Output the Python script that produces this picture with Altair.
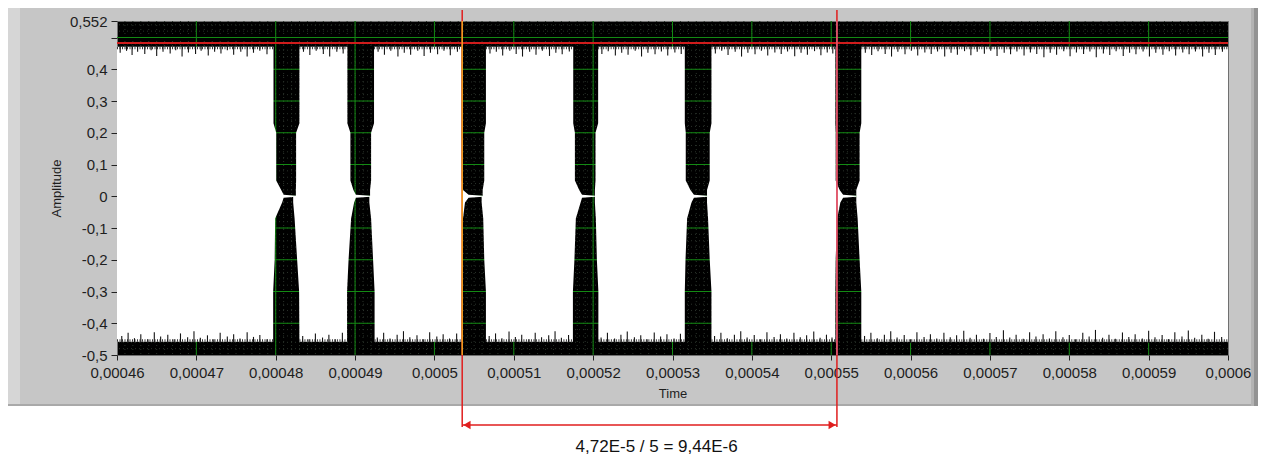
import altair as alt
import pandas as pd

# ---------------- data (time in microseconds) ----------------
X_TICKS = [460, 470, 480, 490, 500, 510, 520, 530, 540, 550, 560, 570, 580, 590, 600]
Y_TICKS = [-0.5, -0.4, -0.3, -0.2, -0.1, 0.0, 0.1, 0.2, 0.3, 0.4, 0.5, 0.552]
X_MIN, X_MAX = 460, 600
Y_MIN, Y_MAX = -0.5, 0.552

TOP_EDGE = 0.471
BOTTOM_EDGE = -0.458
REF_LEVEL = 0.483
CURSOR_1 = 503.5
CURSOR_2 = 550.72
LABEL_T = 528.0
LABEL = "4,72E-5 / 5 = 9,44E-6"

# envelope levels of the bursts (amplitude)
LEVELS = [0.471, 0.23, 0.20, 0.05, 0.02, -0.02, -0.07, -0.20, -0.30, -0.458]
# left / right edge (time, us) of each burst at each level
BURST_L = [
    [479.72, 479.72, 480.06, 480.06, 480.69, 480.81, 479.93, 479.87, 479.68, 479.68],
    [489.03, 489.03, 489.41, 489.41, 489.79, 489.88, 489.50, 489.18, 488.99, 488.99],
    [503.43, 503.43, 503.43, 503.45, 503.60, 503.85, 503.60, 503.47, 503.43, 503.43],
    [517.49, 517.49, 517.70, 517.70, 518.24, 518.42, 517.82, 517.64, 517.45, 517.45],
    [531.55, 531.55, 531.67, 531.67, 532.26, 532.39, 531.84, 531.64, 531.55, 531.55],
    [550.52, 550.52, 550.56, 550.56, 551.06, 551.15, 550.75, 550.56, 550.52, 550.52],
]
BURST_R = [
    [482.99, 482.99, 482.57, 482.57, 482.54, 482.20, 482.38, 482.70, 482.95, 482.99],
    [492.39, 492.39, 492.02, 492.02, 491.89, 491.80, 492.02, 492.27, 492.46, 492.46],
    [506.49, 506.49, 506.28, 506.28, 506.08, 505.95, 506.15, 506.28, 506.49, 506.49],
    [520.63, 520.63, 520.30, 520.30, 520.22, 520.22, 520.34, 520.47, 520.66, 520.66],
    [534.91, 534.91, 534.69, 534.69, 534.35, 534.35, 534.48, 534.69, 534.91, 534.91],
    [553.79, 553.79, 553.58, 553.58, 553.16, 553.16, 553.33, 553.58, 553.79, 553.79],
]
NOTCH_TIP = [481.0, 490.1, 504.3, 518.6, 532.7, 551.5]
NOTCH_LEVELS = [0.005, 0.0012, -0.0012, -0.005]

SPIKES_TOP = [
    (460.4, .452), (461.2, .458), (461.9, .445), (462.6, .455), (463.5, .448), (464.3, .46),
    (465.0, .442), (465.8, .455), (466.7, .45), (467.4, .46), (468.2, .44), (469.0, .453),
    (469.9, .448), (470.6, .458), (471.5, .443), (472.3, .455), (473.1, .45), (473.9, .46),
    (474.7, .446), (475.6, .455), (476.4, .44), (477.2, .452), (478.0, .458), (478.9, .447),
    (483.5, .455), (484.3, .445), (485.1, .458), (486.0, .448), (486.8, .44), (487.7, .455),
    (488.5, .45),
    (492.9, .455), (493.7, .446), (494.5, .458), (495.4, .44), (496.2, .452), (497.0, .446),
    (497.9, .458), (498.7, .442), (499.5, .452), (500.4, .447), (501.2, .458), (502.0, .444),
    (502.9, .455),
    (507.0, .45), (507.8, .455), (508.6, .443), (509.5, .458), (510.3, .448), (511.1, .44),
    (512.0, .455), (512.8, .446), (513.6, .458), (514.5, .442), (515.3, .452), (516.1, .447),
    (517.0, .456),
    (521.1, .448), (521.9, .457), (522.8, .443), (523.6, .452), (524.4, .446), (525.3, .458),
    (526.1, .44), (526.9, .452), (527.8, .447), (528.6, .456), (529.4, .443), (530.3, .453),
    (531.1, .448),
    (535.4, .45), (536.2, .458), (537.0, .445), (537.9, .455), (538.7, .44), (539.5, .452),
    (540.4, .447), (541.2, .458), (542.0, .443), (542.9, .453), (543.7, .448), (544.5, .456),
    (545.4, .441), (546.2, .452), (547.0, .446), (547.9, .457), (548.7, .444), (549.5, .453),
    (550.2, .45),
    (554.3, .452), (555.1, .445), (555.9, .457), (556.8, .448), (557.6, .44), (558.4, .455),
    (559.3, .447), (560.1, .458), (560.9, .443), (561.8, .453), (562.6, .448), (563.4, .456),
    (564.3, .44), (565.1, .452), (565.9, .446), (566.8, .457), (567.6, .444), (568.4, .455),
    (569.3, .449), (570.1, .458), (570.9, .442), (571.8, .452), (572.6, .447), (573.4, .456),
    (574.3, .443), (575.1, .453), (575.9, .448), (576.8, .438), (577.6, .452), (578.4, .446),
    (579.3, .457), (580.1, .441), (580.9, .453), (581.8, .448), (582.6, .456), (583.4, .438),
    (584.3, .45), (585.1, .445), (585.9, .457), (586.8, .442), (587.6, .452), (588.4, .447),
    (589.3, .456), (590.1, .44), (590.9, .452), (591.8, .446), (592.6, .457), (593.4, .443),
    (594.3, .453), (595.1, .447), (595.9, .456), (596.8, .44), (597.6, .452), (598.4, .445),
    (599.3, .455),
]
SPIKES_BOTTOM = [
    (460.6, -.44), (461.4, -.43), (462.2, -.447), (463.0, -.435), (463.9, -.45), (464.7, -.428),
    (465.5, -.442), (466.4, -.436), (467.2, -.45), (468.0, -.432), (468.9, -.444), (469.7, -.425),
    (470.5, -.446), (471.4, -.438), (472.2, -.45), (473.0, -.43), (473.9, -.442), (474.7, -.435),
    (475.5, -.448), (476.4, -.428), (477.2, -.443), (478.0, -.437), (478.9, -.45),
    (483.4, -.44), (484.2, -.45), (485.0, -.432), (485.9, -.445), (486.7, -.436), (487.5, -.45),
    (488.4, -.43),
    (492.8, -.445), (493.6, -.43), (494.4, -.448), (495.3, -.436), (496.1, -.425), (496.9, -.444),
    (497.8, -.438), (498.6, -.45), (499.4, -.428), (500.3, -.442), (501.1, -.435), (501.9, -.448),
    (502.8, -.432),
    (506.9, -.44), (507.7, -.432), (508.5, -.447), (509.4, -.426), (510.2, -.443), (511.0, -.436),
    (511.9, -.45), (512.7, -.43), (513.5, -.444), (514.4, -.438), (515.2, -.425), (516.0, -.446),
    (516.9, -.437),
    (521.0, -.445), (521.8, -.43), (522.7, -.448), (523.5, -.436), (524.3, -.426), (525.2, -.444),
    (526.0, -.438), (526.8, -.45), (527.7, -.429), (528.5, -.442), (529.3, -.435), (530.2, -.448),
    (531.0, -.433),
    (535.3, -.44), (536.1, -.43), (536.9, -.447), (537.8, -.436), (538.6, -.425), (539.4, -.445),
    (540.3, -.437), (541.1, -.45), (541.9, -.428), (542.8, -.443), (543.6, -.435), (544.4, -.448),
    (545.3, -.43), (546.1, -.444), (546.9, -.438), (547.8, -.426), (548.6, -.446), (549.4, -.436),
    (550.1, -.445),
    (554.2, -.44), (555.0, -.43), (555.8, -.447), (556.7, -.436), (557.5, -.425), (558.3, -.445),
    (559.2, -.437), (560.0, -.45), (560.8, -.428), (561.7, -.443), (562.5, -.435), (563.3, -.448),
    (564.2, -.43), (565.0, -.444), (565.8, -.438), (566.7, -.424), (567.5, -.446), (568.3, -.436),
    (569.2, -.449), (570.0, -.431), (570.8, -.443), (571.7, -.422), (572.5, -.445), (573.3, -.436),
    (574.2, -.449), (575.0, -.428), (575.8, -.442), (576.7, -.435), (577.5, -.448), (578.3, -.425),
    (579.2, -.444), (580.0, -.437), (580.8, -.45), (581.7, -.43), (582.5, -.442), (583.3, -.421),
    (584.2, -.446), (585.0, -.436), (585.8, -.449), (586.7, -.429), (587.5, -.443), (588.3, -.435),
    (589.2, -.448), (590.0, -.424), (590.8, -.444), (591.7, -.437), (592.5, -.45), (593.3, -.428),
    (594.2, -.442), (595.0, -.423), (595.8, -.446), (596.7, -.436), (597.5, -.449), (598.3, -.427),
    (599.2, -.443),
]

# ---------------- tables ----------------
full_levels = LEVELS[:5] + NOTCH_LEVELS + LEVELS[5:]
L_full, R_full = [], []
for b in range(len(BURST_L)):
    L, R, tip = BURST_L[b], BURST_R[b], NOTCH_TIP[b]
    L_full.append(L[:5] + [tip, R[4], R[4], tip] + L[5:])
    R_full.append(R[:5] + [R[4], R[4], R[5], R[5]] + R[5:])

rows = []
n_seg = len(BURST_L) + 1
for k in range(n_seg):
    for i, v in enumerate(full_levels):
        left = X_MIN if k == 0 else R_full[k - 1][i]
        right = X_MAX if k == n_seg - 1 else L_full[k][i]
        rows.append({"seg": k, "v": float(v), "t": float(left), "t2": float(right)})
white_df = pd.DataFrame(rows).sort_values(["seg", "v"]).reset_index(drop=True)

# fuzzy comb along the white edges (between bursts)
edge_top = white_df[white_df["v"] == LEVELS[0]][["t", "t2"]].copy()
edge_top["v"] = TOP_EDGE - 0.004
edge_bot = white_df[white_df["v"] == LEVELS[-1]][["t", "t2"]].copy()
edge_bot["v"] = BOTTOM_EDGE + 0.004
edge_df = pd.concat([edge_top, edge_bot], ignore_index=True)

top_df = pd.DataFrame({"t": [s[0] for s in SPIKES_TOP],
                       "v": [TOP_EDGE + 0.004] * len(SPIKES_TOP),
                       "v2": [s[1] for s in SPIKES_TOP]})
bot_df = pd.DataFrame({"t": [s[0] for s in SPIKES_BOTTOM],
                       "v": [BOTTOM_EDGE - 0.004] * len(SPIKES_BOTTOM),
                       "v2": [s[1] for s in SPIKES_BOTTOM]})

minor_x = pd.DataFrame({"t": list(range(X_MIN + 1, X_MAX))})
minor_y = pd.DataFrame({"v": [round(-0.48 + 0.02 * i, 3) for i in range(52)]})
major_x = pd.DataFrame({"t": X_TICKS[1:-1]})
major_y = pd.DataFrame({"v": Y_TICKS[1:-1]})
cursor_df = pd.DataFrame({"t": [CURSOR_1, CURSOR_2], "v": [Y_MAX, Y_MAX], "v2": [Y_MIN, Y_MIN],
                          "c": ["c1", "c2"]})

# ---------------- scales / encodings ----------------
FONT = "Liberation Sans"
xs = alt.Scale(domain=[X_MIN, X_MAX], nice=False, zero=False)
ys = alt.Scale(domain=[Y_MIN, Y_MAX], nice=False, zero=False)
x_axis = alt.Axis(
    values=X_TICKS, labelExpr="replace(toString(datum.value / 1000000), '.', ',')",
    tickSize=5, tickColor="#222222", domain=False, grid=False,
    labelFont=FONT, labelFontSize=15, labelColor="#1e1e1e", labelPadding=5,
    labelFlush=False, labelOverlap=False,
    titleFont=FONT, titleFontSize=13, titleFontWeight="normal", titleColor="#1e1e1e", titlePadding=7,
)
y_axis = alt.Axis(
    values=Y_TICKS, labelExpr="datum.value == 0.5 ? '' : replace(toString(datum.value), '.', ',')",
    tickSize=6, tickColor="#222222", domain=False, grid=False,
    labelFont=FONT, labelFontSize=15, labelColor="#1e1e1e", labelPadding=4,
    labelOverlap=False, labelFlush=False,
    titleFont=FONT, titleFontSize=13, titleFontWeight="normal", titleColor="#1e1e1e", titlePadding=6,
)

def X(field="t"):
    return alt.X(f"{field}:Q", scale=xs, axis=x_axis, title="Time")

def Y(field="v"):
    return alt.Y(f"{field}:Q", scale=ys, axis=y_axis, title="Amplitude")

W, H = 1111, 334
one = pd.DataFrame({"a": [0]})

# panel decorations (outside the plot)
panel_bottom = alt.Chart(one).mark_rect(color="white").encode(
    x=alt.value(-120), x2=alt.value(1160), y=alt.value(385), y2=alt.value(520))
panel_edge = alt.Chart(one).mark_rect(color="#a9a9a9").encode(
    x=alt.value(-109), x2=alt.value(1141), y=alt.value(383), y2=alt.value(385))
left_strip = alt.Chart(one).mark_rect(color="#d6d6d6").encode(
    x=alt.value(-109), x2=alt.value(-97), y=alt.value(-13), y2=alt.value(383))
right_strip = alt.Chart(one).mark_rect(color="#b3b3b3").encode(
    x=alt.value(1134), x2=alt.value(1141), y=alt.value(-13), y2=alt.value(385))
right_dark = alt.Chart(one).mark_rect(color="#939393").encode(
    x=alt.value(1137), x2=alt.value(1141), y=alt.value(-13), y2=alt.value(385))

g_minor_x = alt.Chart(minor_x).mark_rule(color="#2a322a", strokeWidth=1, strokeDash=[1, 3]).encode(x=X())
g_minor_y = alt.Chart(minor_y).mark_rule(color="#2a322a", strokeWidth=1, strokeDash=[1, 3]).encode(y=Y())
g_major_x = alt.Chart(major_x).mark_rule(color="#138a13", strokeWidth=1).encode(x=X())
g_major_y = alt.Chart(major_y).mark_rule(color="#138a13", strokeWidth=1).encode(y=Y())

white = alt.Chart(white_df).mark_area(orient="horizontal", color="white", interpolate="linear").encode(
    y=Y(), x=X(), x2=alt.X2("t2"), detail=alt.Detail("seg:N"))

edge_comb = alt.Chart(edge_df).mark_rule(color="#3a3a3a", strokeWidth=2.5, strokeDash=[1, 1.5]).encode(
    x=X(), x2=alt.X2("t2"), y=Y())

spk_top = alt.Chart(top_df).mark_rule(color="#141414", strokeWidth=1.1).encode(x=X(), y=Y(), y2=alt.Y2("v2"))
spk_bot = alt.Chart(bot_df).mark_rule(color="#141414", strokeWidth=1.1).encode(x=X(), y=Y(), y2=alt.Y2("v2"))

ref_line = alt.Chart(pd.DataFrame({"v": [REF_LEVEL]})).mark_rule(color="#d01c1c", strokeWidth=2).encode(y=Y())

c_red = alt.Chart(cursor_df).mark_rule(color="#e01e1e", strokeWidth=1.5).encode(
    x=X(), y=alt.value(-11), y2=alt.value(406))
c_in = alt.Chart(cursor_df).mark_rule(strokeWidth=1.5).encode(
    x=X(), y=Y(), y2=alt.Y2("v2"),
    color=alt.Color("c:N", scale=alt.Scale(domain=["c1", "c2"], range=["#f0a020", "#e0607a"]), legend=None))

arrow_line = alt.Chart(pd.DataFrame({"t": [CURSOR_1], "t2": [CURSOR_2]})).mark_rule(
    color="#e01e1e", strokeWidth=1.5).encode(x=X(), x2=alt.X2("t2"), y=alt.value(404))
arrow_left = alt.Chart(pd.DataFrame({"t": [CURSOR_1 + 0.6]})).mark_point(
    shape="triangle-left", filled=True, size=70, color="#e01e1e", opacity=1).encode(
    x=X(), y=alt.value(404))
arrow_right = alt.Chart(pd.DataFrame({"t": [CURSOR_2 - 0.6]})).mark_point(
    shape="triangle-right", filled=True, size=70, color="#e01e1e", opacity=1).encode(
    x=X(), y=alt.value(404))
label = alt.Chart(pd.DataFrame({"t": [LABEL_T], "txt": [LABEL]})).mark_text(
    font=FONT, fontSize=17, color="#111111", baseline="middle", align="center").encode(
    x=X(), y=alt.value(426), text="txt:N")

chart = alt.layer(
    g_minor_x, g_minor_y, g_major_x, g_major_y,
    white, edge_comb, spk_top, spk_bot, ref_line,
    panel_bottom, panel_edge, left_strip, right_strip, right_dark,
    c_red, c_in,
    arrow_line, arrow_left, arrow_right, label,
).properties(
    width=W, height=H,
    autosize="none",
    padding={"left": 109, "top": 13, "right": 30, "bottom": 101},
).configure(background="#c6c6c6").configure_view(fill="black", stroke="#707070")

chart.save("out.html", embed_options={"renderer": "svg", "actions": False})
